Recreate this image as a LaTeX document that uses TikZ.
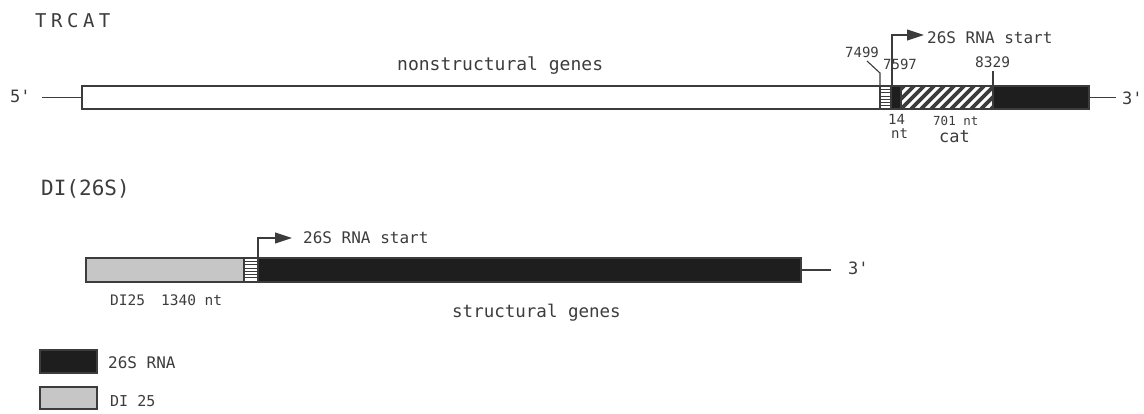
\documentclass[tikz,border=0pt]{standalone}
\usepackage{fontspec}
\setmainfont{DejaVu Sans Mono}
\usetikzlibrary{arrows.meta}
\definecolor{ink}{HTML}{3C3C3C}
\definecolor{solid}{HTML}{1E1E1E}
\definecolor{stip}{HTML}{C6C6C6}
\newcommand{\fs}[1]{\fontsize{#1}{#1}\selectfont}
\newcommand{\pr}{\textquotesingle}
\tikzset{
  seg/.style={draw=ink, line width=1.1pt, minimum height=23pt, inner sep=0pt, outer sep=0pt, anchor=north west},
  blackseg/.style={seg, fill=solid},
  stipseg/.style={seg, fill=stip},
  hlines/.style={seg, fill=white, path picture={
      \foreach \k in {1,...,6}
        \draw[ink, line width=0.7pt]
          ([yshift=-\k*3.3pt]path picture bounding box.north west) --
          ([yshift=-\k*3.3pt]path picture bounding box.north east);}},
  hatchseg/.style={seg, fill=white, path picture={
      \foreach \i in {-30,-20,...,120}
        \draw[solid, line width=3.6pt]
          ([xshift=\i pt]path picture bounding box.south west) -- ++(28pt,28pt);}},
  txt/.style={text=ink, inner sep=0pt, anchor=base west},
  wire/.style={draw=ink, line width=1.1pt},
  startarrow/.style={draw=ink, line width=1.1pt, -{Triangle[length=17pt,width=11pt]}},
}
\begin{document}
\begin{tikzpicture}[x=1pt, y=-1pt]
\useasboundingbox (0,0) rectangle (1144,413);

% ---------- TRCAT construct ----------
\node[txt, font=\fs{19}] (t1) at (35,27) {T\hspace{4.5pt}R\hspace{4.5pt}C\hspace{4.5pt}A\hspace{4.5pt}T};
\node[txt, font=\fs{17}] (p5) at (10,102) {5\pr};
\coordinate (l5) at (42,97.5);
\node[seg, fill=white, minimum width=798pt] (ns) at (82,86) {};
\node[hlines, minimum width=11pt] (sg) at (880,86) {};
\node[blackseg, minimum width=10pt] (gap) at (891,86) {};
\node[hatchseg, minimum width=92pt] (cat) at (901,86) {};
\node[blackseg, minimum width=96pt] (sp) at (993,86) {};
\coordinate (r3) at (1116,97.5);
\node[txt, font=\fs{17}] (p3) at (1122,104) {3\pr};
\draw[wire] (l5) -- (ns.west);
\draw[wire] (sp.east) -- (r3);

\node[txt, font=\fs{18}] (nsl) at (397,70) {nonstructural genes};

% position marks
\node[txt, font=\fs{14}] (m7499) at (845,57) {7499};
\coordinate (k7499a) at (880,73);
\coordinate (k7499b) at (867,61);
\draw[wire] (ns.north east) -- (k7499a) -- (k7499b);
\node[txt, font=\fs{14}] (m7597) at (883,69) {7597};
\node[txt, font=\fs{14.5}] (m8329) at (975,67) {8329};
\coordinate (k8329) at (993,71);
\draw[wire] (sp.north west) -- (k8329);

% subgenomic promoter
\coordinate (a1top) at (892,35);
\coordinate (a1tip) at (924,35);
\draw[startarrow] ([xshift=1pt]gap.north west) -- (a1top) -- (a1tip);
\node[txt, font=\fs{16}] (s1) at (927,43) {26S RNA start};

\node[txt, font=\fs{14}] (n14) at (888,124) {14};
\node[txt, font=\fs{14}] (nnt) at (891,138) {nt};
\node[txt, font=\fs{12.5}] (n701) at (933,125) {701 nt};
\node[txt, font=\fs{17}] (ncat) at (939,142) {cat};

% ---------- DI(26S) construct ----------
\node[txt, font=\fs{21}] (t2) at (41,195) {DI(26S)};
\node[stipseg, minimum width=158pt, minimum height=24pt] (di) at (86,258) {};
\node[hlines, minimum width=14pt, minimum height=24pt] (sg2) at (244,258) {};
\node[blackseg, minimum width=543pt, minimum height=24pt] (st) at (258,258) {};
\coordinate (r3b) at (831,270);
\node[txt, font=\fs{17}] (p3b) at (848,274) {3\pr};
\draw[wire] (st.east) -- (r3b);

\coordinate (a2top) at (258,238);
\coordinate (a2tip) at (292,238);
\draw[startarrow] (st.north west) -- (a2top) -- (a2tip);
\node[txt, font=\fs{16}] (s2) at (303,243) {26S RNA start};

\node[txt, font=\fs{14.5}] (dil) at (110,305) {DI25\hspace{1.1em}1340 nt};
\node[txt, font=\fs{17.5}] (stl) at (452,317) {structural genes};

% ---------- legend ----------
\node[blackseg, minimum width=57pt, minimum height=23pt] (kb) at (40,350) {};
\node[txt, font=\fs{16}] (kbl) at (108,368) {26S RNA};
\node[stipseg, minimum width=57pt, minimum height=22pt] (ks) at (40,387) {};
\node[txt, font=\fs{15}] (ksl) at (110,406) {DI 25};
\end{tikzpicture}
\end{document}
